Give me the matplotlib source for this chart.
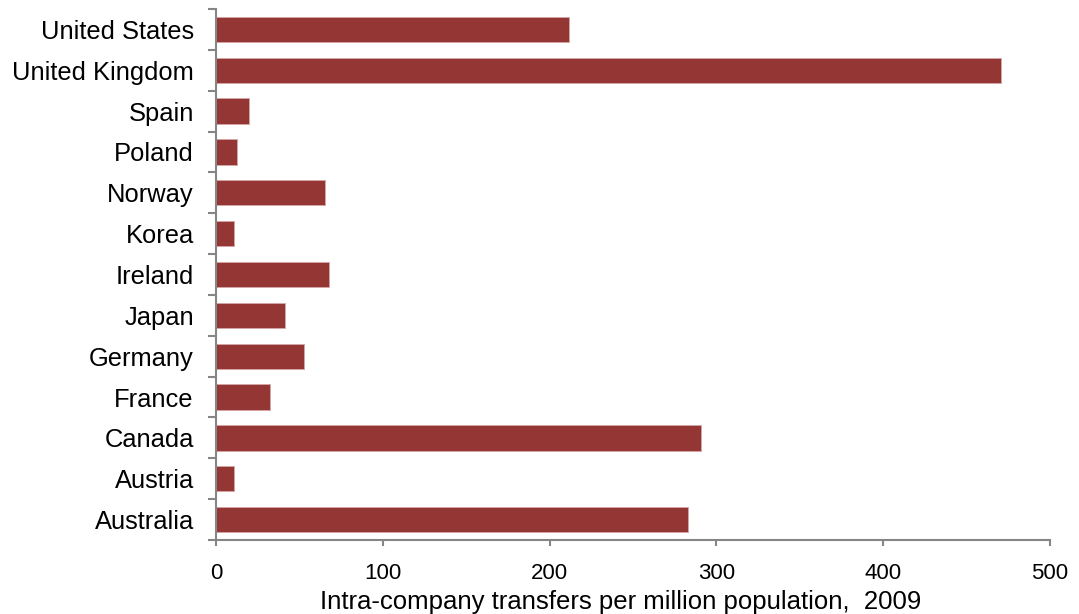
import matplotlib
matplotlib.use('Agg')
import matplotlib.pyplot as plt
import numpy as np

countries = ['Australia', 'Austria', 'Canada', 'France', 'Germany', 'Japan',
             'Ireland', 'Korea', 'Norway', 'Poland', 'Spain',
             'United Kingdom', 'United States']
transfers = [283, 10.5, 291, 32.6, 52.8, 41.2, 67.5, 10.5, 65.6, 12.5, 20, 470.5, 211.5]
x_ticks = [0, 100, 200, 300, 400, 500]

plt.rcParams['font.family'] = ['Liberation Sans', 'DejaVu Sans']

fig = plt.figure(figsize=(10.79, 6.14), dpi=100)
ax = fig.add_axes([216 / 1079, 1 - 540 / 614, (1050 - 216) / 1079, (540 - 9) / 614])

pos = np.arange(len(countries))
ax.barh(pos, transfers, height=0.62, color='#943634', edgecolor='#d4a5a4', linewidth=0.7)

ax.set_xlim(0, 500)
ax.set_ylim(-0.5, len(countries) - 0.5)

# labels at category centres, ticks at the boundaries
ax.set_yticks(pos)
ax.set_yticklabels(countries, fontsize=18.4)
ax.set_yticks(np.arange(-0.5, len(countries)), minor=True)
ax.tick_params(axis='y', which='major', length=0, pad=16)
ax.tick_params(axis='y', which='minor', length=6, width=1.5, color='#868686', direction='out')

ax.set_xticks(x_ticks)
ax.tick_params(axis='x', which='major', length=4.5, width=1.5, color='#868686',
               direction='out', labelsize=16, pad=12)
ax.set_xlabel('Intra-company transfers per million population,  2009', fontsize=18.5)
ax.xaxis.set_label_coords(0.485, -0.094)

for s in ['top', 'right']:
    ax.spines[s].set_visible(False)
for s in ['left', 'bottom']:
    ax.spines[s].set_color('#868686')
    ax.spines[s].set_linewidth(1.5)

plt.savefig('out.png', dpi=100)
